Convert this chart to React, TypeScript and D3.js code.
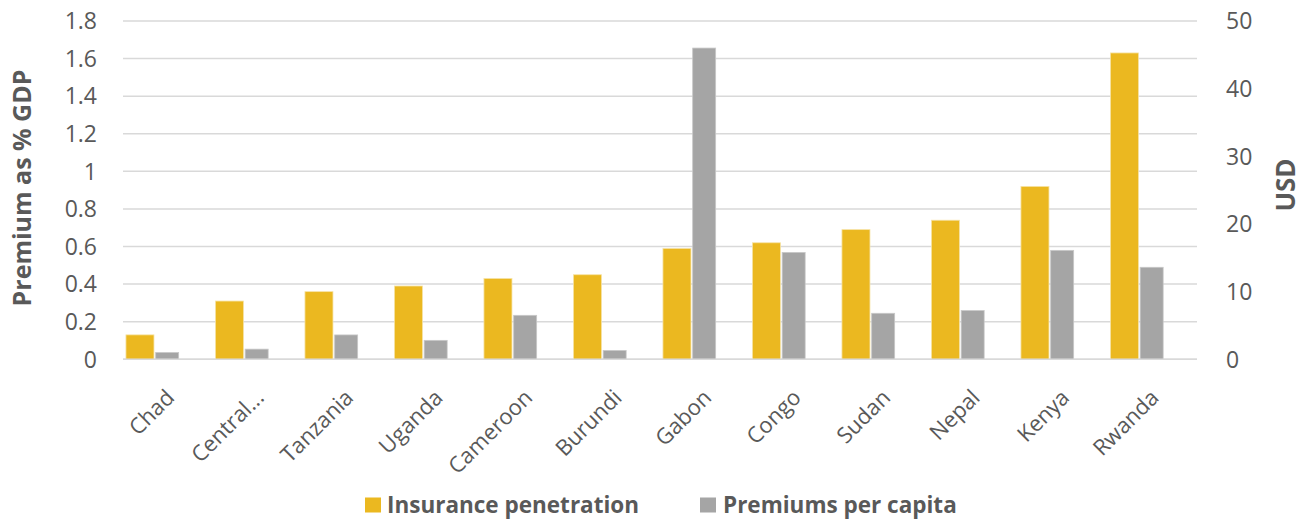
import React from "react";
import * as d3 from "d3";

// Countries, left to right
const categories = [
  "Chad", "Central...", "Tanzania", "Uganda", "Cameroon", "Burundi",
  "Gabon", "Congo", "Sudan", "Nepal", "Kenya", "Rwanda",
];
// Insurance penetration, premium as % of GDP (left axis)
const penetration = [0.13, 0.31, 0.36, 0.39, 0.43, 0.45, 0.59, 0.62, 0.69, 0.74, 0.92, 1.63];
// Premiums per capita, USD (right axis)
const perCapita = [1.0, 1.5, 3.6, 2.8, 6.5, 1.3, 46.0, 15.8, 6.8, 7.2, 16.1, 13.6];

const leftTicks = [0, 0.2, 0.4, 0.6, 0.8, 1, 1.2, 1.4, 1.6, 1.8];
const rightTicks = [0, 10, 20, 30, 40, 50];

const W = 1307;
const H = 519;
const plot = { left: 123, right: 1197, top: 21, bottom: 359.3 };

const YELLOW = "#EBB820";
const GRAY = "#A5A5A5";
const GRID = "#D9D9D9";
const TEXT = "#595959";
const FONT = "'Open Sans', 'Noto Sans', sans-serif";

export default function App() {
  const x = d3.scaleBand<string>().domain(categories).range([plot.left, plot.right]).paddingInner(0).paddingOuter(0);
  const yL = d3.scaleLinear().domain([0, 1.8]).range([plot.bottom, plot.top]);
  const yR = d3.scaleLinear().domain([0, 50]).range([plot.bottom, plot.top]);
  const bw = x.bandwidth();
  const yw = bw * 0.313;
  const gw = bw * 0.257;
  const yOff = bw * 0.033;
  const gOff = bw * 0.365;

  return (
    <svg width={W} height={H} style={{ display: "block", position: "absolute", left: 0, top: 0 }} fontFamily={FONT}>
      <rect width={W} height={H} fill="#fff" />
      {leftTicks.map((t) => (
        <line key={"g" + t} x1={plot.left} x2={plot.right} y1={yL(t)} y2={yL(t)} stroke={GRID} strokeWidth={1.5} />
      ))}
      {categories.map((c, i) => (
        <g key={c}>
          <rect x={x(c)! + yOff} y={yL(penetration[i])} width={yw} height={yL(0) - yL(penetration[i])}
            fill={YELLOW} stroke="#F6E3A6" strokeWidth={0.8} />
          <rect x={x(c)! + gOff} y={yR(perCapita[i])} width={gw} height={yR(0) - yR(perCapita[i])}
            fill={GRAY} stroke="#C8C8C8" strokeWidth={0.8} />
        </g>
      ))}
      <line x1={plot.left} x2={plot.right} y1={plot.bottom} y2={plot.bottom} stroke={GRID} strokeWidth={1.5} />
      {leftTicks.map((t) => (
        <text key={"l" + t} x={97} y={yL(t)} dy="0.36em" textAnchor="end" fontSize={23} fill={TEXT}>{d3.format("~g")(t)}</text>
      ))}
      {rightTicks.map((t) => (
        <text key={"r" + t} x={1226} y={yR(t)} dy="0.36em" textAnchor="start" fontSize={23} fill={TEXT}>{t}</text>
      ))}
      <text transform={`translate(22,188) rotate(-90)`} textAnchor="middle"
        fontSize={25} fontWeight="bold" fill={TEXT} dy="0.36em">Premium as % GDP</text>
      <text transform={`translate(1286,185) rotate(-90)`} textAnchor="middle"
        fontSize={26} fontWeight="bold" fill={TEXT} dy="0.36em">USD</text>
      {categories.map((c) => (
        <text key={"c" + c} transform={`translate(${x(c)! + bw / 2 + 8},${399}) rotate(-45)`} textAnchor="end"
          fontSize={22} fill={TEXT}>{c}</text>
      ))}
      <rect x={365} y={497.5} width={16} height={15} fill={YELLOW} />
      <text x={387} y={504.5} dy="0.36em" fontSize={22.5} fontWeight="bold" fill={TEXT}>Insurance penetration</text>
      <rect x={700} y={497.5} width={16} height={15} fill={GRAY} />
      <text x={723} y={504.5} dy="0.36em" fontSize={22.5} fontWeight="bold" fill={TEXT}>Premiums per capita</text>
    </svg>
  );
}
